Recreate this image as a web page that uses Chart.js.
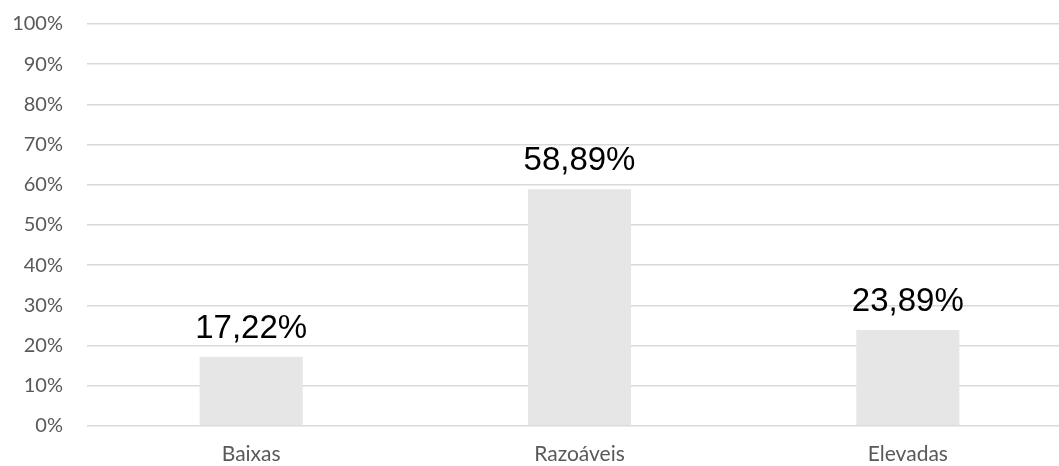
<!DOCTYPE html>
<html>
<head>
<meta charset="utf-8">
<script src="https://cdn.jsdelivr.net/npm/chart.js@4"></script>
<style>
  html, body { margin: 0; padding: 0; background: #fff; overflow: hidden; }
  #wrap { width: 1073px; height: 466px; }
</style>
</head>
<body>
<div id="wrap"><canvas id="barChart" width="1073" height="466"></canvas></div>
<script>
var categories = ['Baixas', 'Razoáveis', 'Elevadas'];
var percentValues = [17.22, 58.89, 23.89];
var yTicks = [0, 10, 20, 30, 40, 50, 60, 70, 80, 90, 100];

// labels above each bar, decimal comma
var valueLabels = {
  id: 'valueLabels',
  afterDatasetsDraw: function (chart) {
    var ctx = chart.ctx;
    var meta = chart.getDatasetMeta(0);
    ctx.save();
    ctx.font = '33px "Liberation Sans", Arial, sans-serif';
    ctx.fillStyle = '#000';
    ctx.textAlign = 'center';
    ctx.textBaseline = 'alphabetic';
    meta.data.forEach(function (bar, i) {
      var txt = percentValues[i].toFixed(2).replace('.', ',') + '%';
      ctx.fillText(txt, bar.x, bar.y - 19);
    });
    ctx.restore();
  }
};

var ctx = document.getElementById('barChart').getContext('2d');
new Chart(ctx, {
  type: 'bar',
  data: {
    labels: categories,
    datasets: [{
      data: percentValues,
      backgroundColor: '#e6e6e6',
      borderWidth: 0,
      barPercentage: 0.314,
      categoryPercentage: 1
    }]
  },
  options: {
    responsive: false,
    animation: false,
    layout: { padding: { top: 24, right: 1, left: 0, bottom: 0 } },
    plugins: {
      legend: { display: false },
      tooltip: { enabled: false }
    },
    scales: {
      x: {
        grid: { display: false, drawTicks: false },
        border: { display: false },
        ticks: {
          color: '#595959',
          font: { family: 'Lato, "Open Sans", sans-serif', size: 21 },
          padding: 16
        },
        afterFit: function (axis) { axis.height = 40; axis.paddingLeft = 0; axis.paddingRight = 0; }
      },
      y: {
        min: 0,
        max: 100,
        afterBuildTicks: function (axis) {
          axis.ticks = yTicks.map(function (v) { return { value: v }; });
        },
        grid: { color: '#d9d9d9', lineWidth: 1.5, drawTicks: false },
        border: { display: false },
        ticks: {
          color: '#595959',
          font: { family: 'Lato, "Open Sans", sans-serif', size: 20 },
          padding: 24,
          callback: function (v) { return v + '%'; }
        },
        afterFit: function (axis) { axis.width = 87; axis.paddingTop = 0; axis.paddingBottom = 0; }
      }
    }
  },
  plugins: [valueLabels]
});
</script>
</body>
</html>
